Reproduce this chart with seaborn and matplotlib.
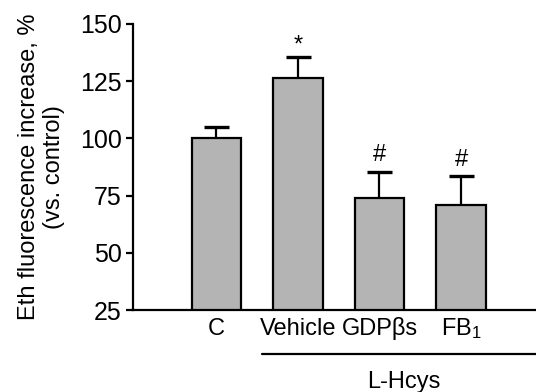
import matplotlib
matplotlib.use("Agg")
import matplotlib.pyplot as plt
import matplotlib.transforms as mtransforms
import seaborn as sns
import pandas as pd

groups = ["C", "Vehicle", "GDPβs", "FB$_1$"]
means = [100.0, 126.5, 74.0, 71.0]
sem = [5.0, 9.0, 11.5, 12.5]
marks = ["", "*", "#", "#"]

sns.set_theme(style="ticks")
plt.rcParams["font.family"] = ["Liberation Sans", "DejaVu Sans"]
plt.rcParams["mathtext.fontset"] = "custom"
plt.rcParams["mathtext.rm"] = "Liberation Sans"
plt.rcParams["mathtext.it"] = "Liberation Sans"
plt.rcParams["text.color"] = "black"
plt.rcParams["axes.labelcolor"] = "black"
plt.rcParams["xtick.color"] = "black"
plt.rcParams["ytick.color"] = "black"

df = pd.DataFrame({"group": groups, "value": means})

fig = plt.figure(figsize=(5.36, 3.92), dpi=100)
ax = fig.add_axes([0.248, 0.209, 0.752, 0.730])

sns.barplot(data=df, x="group", y="value", color="#b4b4b4", saturation=1,
            width=0.61, edgecolor="black", linewidth=1.6, errorbar=None, ax=ax)

# symmetric bars drawn behind the columns so only the upper half shows
ax.errorbar(range(len(groups)), means, yerr=sem, fmt="none",
            ecolor="black", elinewidth=1.6, capsize=9, capthick=2.4, zorder=0.5)

for i, (m, s, t) in enumerate(zip(means, sem, marks)):
    if t:
        off = 0.5 if t == "*" else 4
        ax.annotate(t, (i, m + s), xytext=(0, off), textcoords="offset points",
                    ha="center", va="bottom", fontsize=17)

ax.set_ylim(25, 150)
ax.set_xlim(-1.025, 3.92)
ax.set_yticks([25, 50, 75, 100, 125, 150])
ax.set_xlabel("")
ax.set_ylabel("Eth fluorescence increase, %\n(vs. control)", fontsize=17,
              linespacing=1.15, labelpad=11)
ax.tick_params(axis="y", labelsize=18, length=5, width=1.6, direction="out", pad=3)
ax.tick_params(axis="x", labelsize=17, length=0, pad=18)
for lbl in ax.get_xticklabels():
    lbl.set_verticalalignment("baseline")
for sp in ["top", "right"]:
    ax.spines[sp].set_visible(False)
for sp in ["left", "bottom"]:
    ax.spines[sp].set_linewidth(1.6)
    ax.spines[sp].set_color("black")

trans = mtransforms.blended_transform_factory(ax.transData, ax.transAxes)
ax.plot([0.56, 3.92], [-0.154, -0.154], color="black", lw=1.6,
        transform=trans, clip_on=False)
ax.text(2.3, -0.273, "L-Hcys", transform=trans, ha="center", va="baseline", fontsize=17)

fig.savefig("out.png", dpi=100)
